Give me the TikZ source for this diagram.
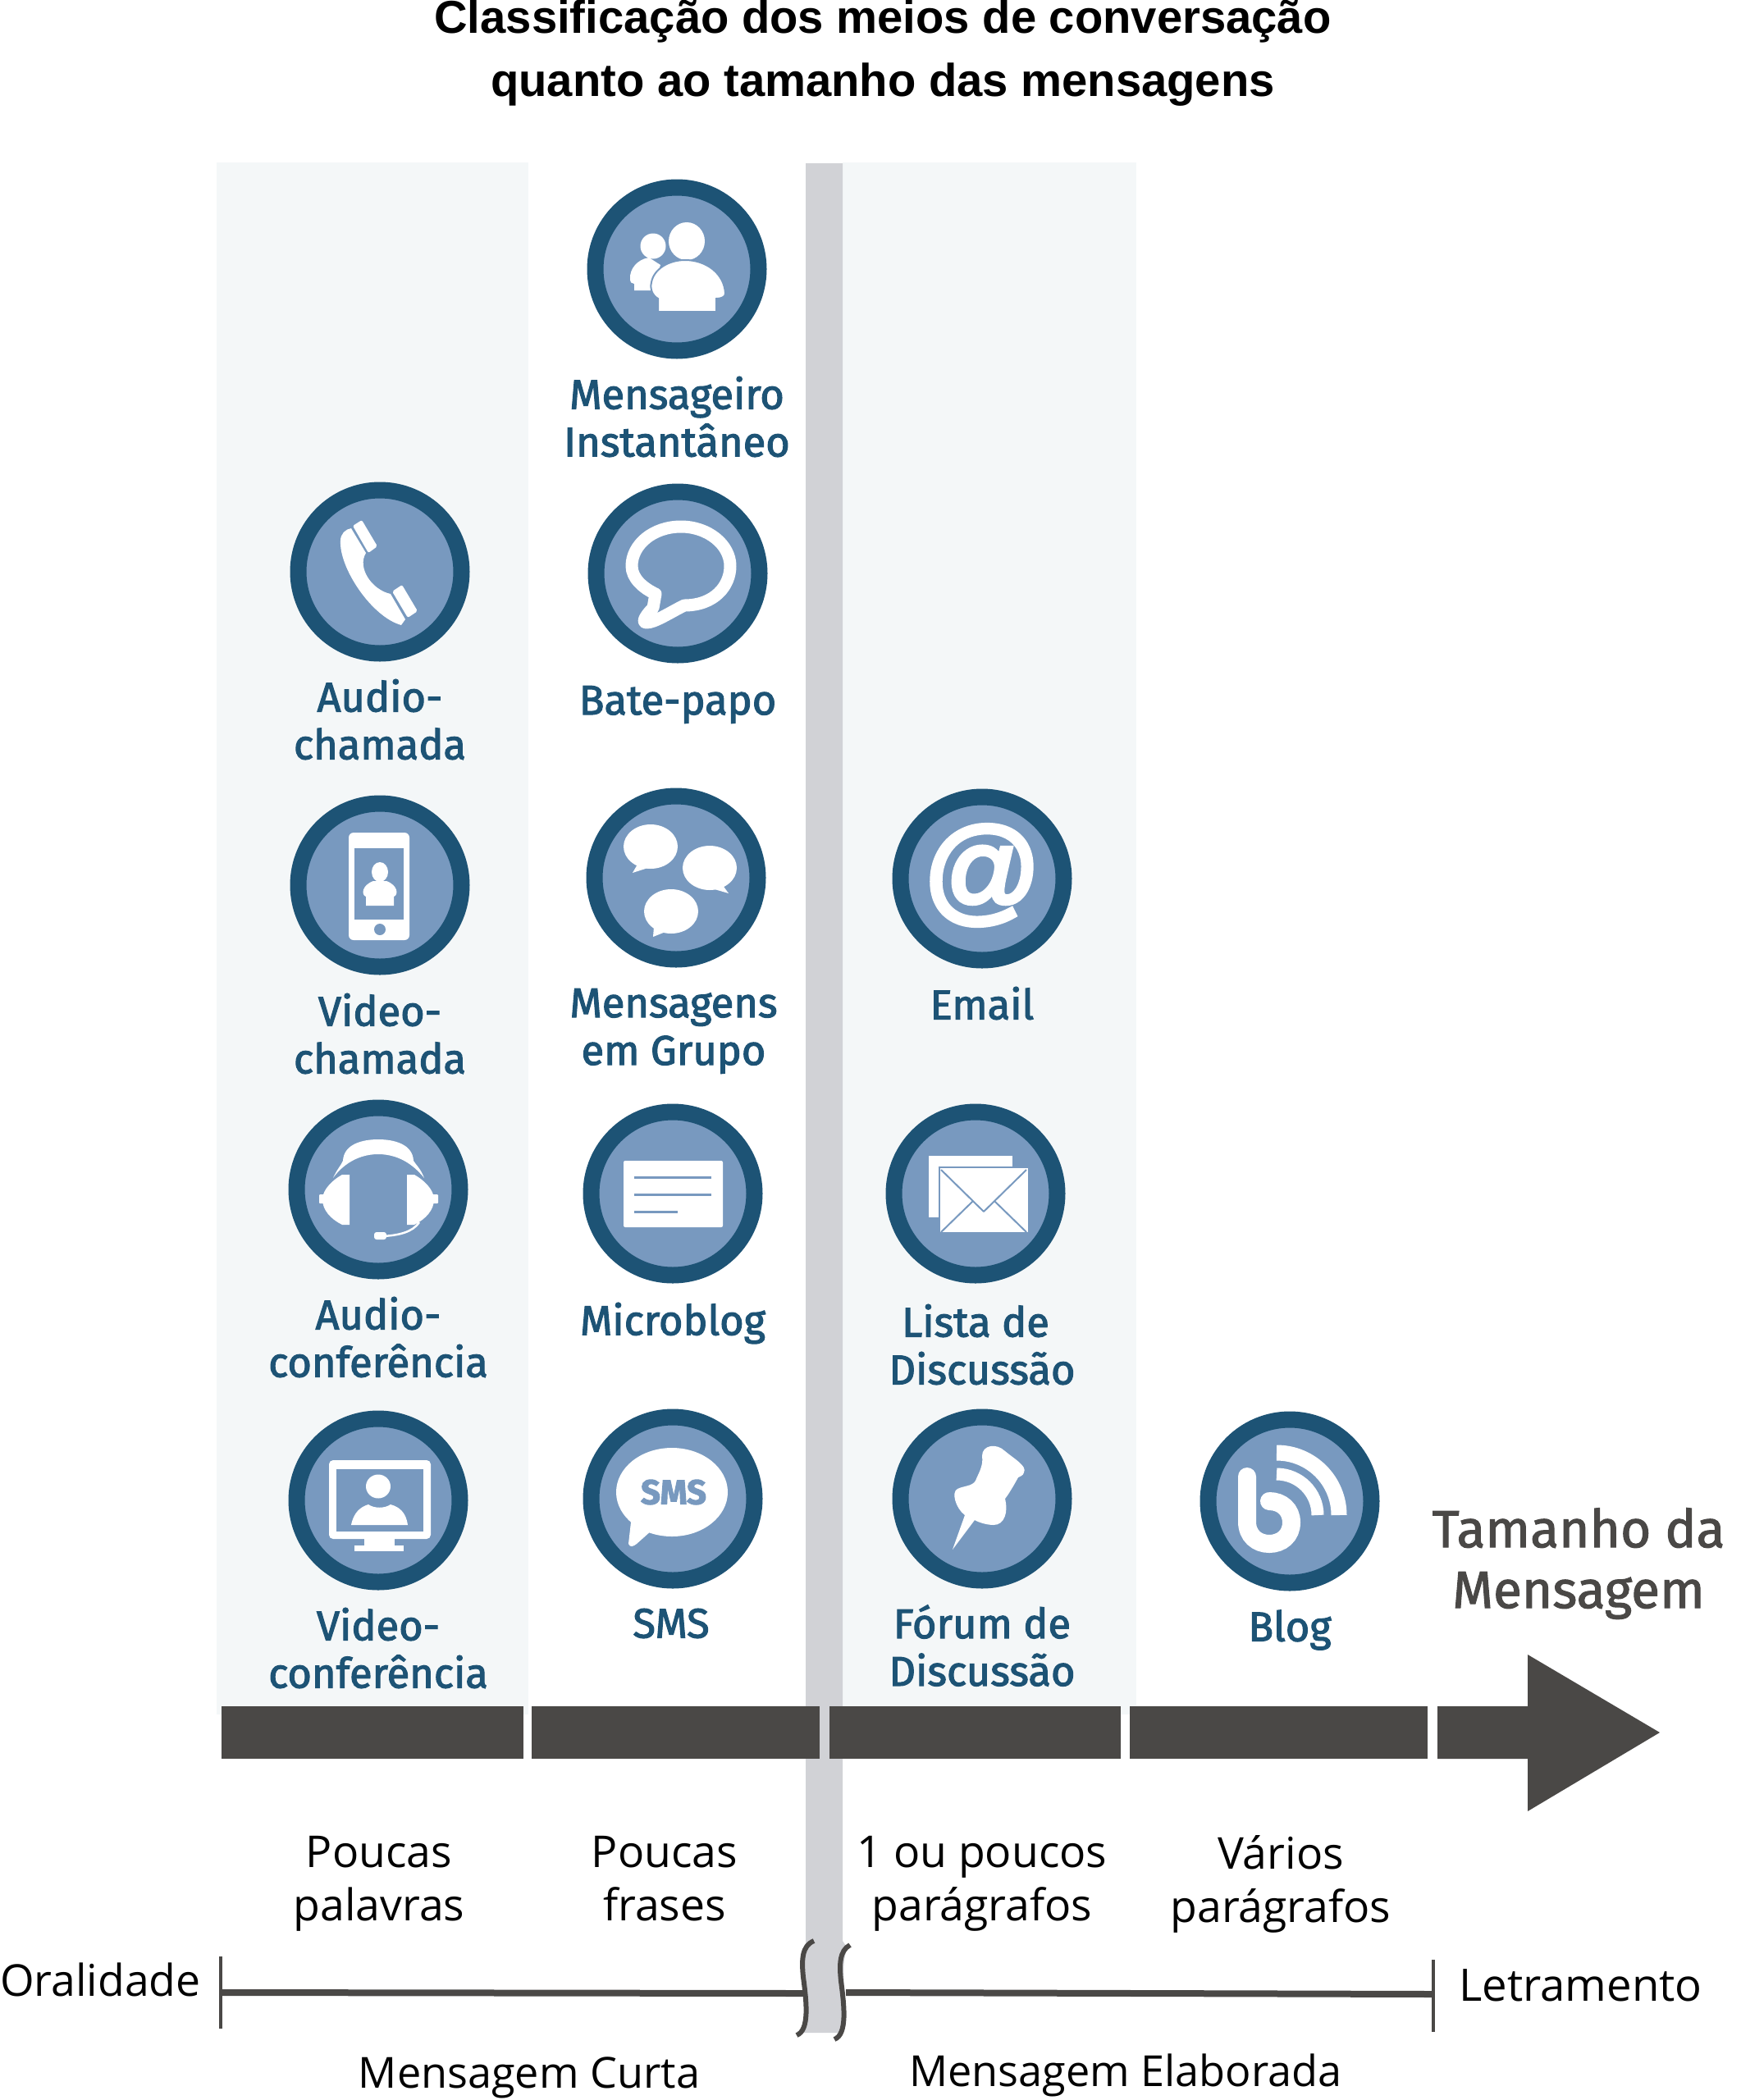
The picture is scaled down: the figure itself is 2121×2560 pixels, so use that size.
\documentclass[tikz,border=0pt]{standalone}
\usepackage{fontspec}
\setmainfont{Open Sans}
\newfontfamily\lblfont[FakeBold=2.2]{Fira Sans}
\newfontfamily\tamfont[FakeBold=1.6]{Fira Sans}
\newfontfamily\ttlfont{Liberation Sans}
\newfontfamily\atfont[FakeBold=4]{Liberation Sans}
\definecolor{ringc}{HTML}{1D5375}
\definecolor{innerc}{HTML}{7899BF}
\definecolor{darkc}{HTML}{4A4846}
\definecolor{bandc}{HTML}{D1D2D6}
\definecolor{panelc}{HTML}{F4F7F8}
\tikzset{
 x=1pt,y=-1pt,
 badge/.style={circle,draw=ringc,fill=innerc,line width=20pt,minimum size=199pt,inner sep=0pt,outer sep=0pt},
 lbl/.style={text=ringc,align=center,font=\lblfont\fontsize{50.6}{58}\selectfont,inner sep=0pt},
 plain/.style={text=black,align=center,font=\fontsize{53.5}{65}\selectfont,inner sep=0pt},
 plainb/.style={plain,font=\fontsize{52.2}{65}\selectfont},
 wh/.style={fill=white,draw=none},
 bar/.style={fill=darkc,draw=none},
 ic people/.pic={
  \fill[white] (-29,-28) circle (15.5);
  \fill[white] (-34,-14) .. controls (-48,-12) and (-58,0) .. (-57,12) .. controls (-57,16) and (-55,18) .. (-52,18) -- (-52,26) -- (-30,26) -- (-20,-5) -- cycle;
  \fill[white] (12,-34) ellipse [x radius=22,y radius=23];
  \draw[fill=white,draw=innerc,line width=2pt] (-23,52) -- (-23,36) .. controls (-30,32) and (-33,24) .. (-31,16) .. controls (-28,0) and (-10,-11) .. (10,-11) .. controls (35,-11) and (58,5) .. (59,30) .. controls (59,34) and (54,36) .. (48,36) -- (48,52) -- cycle;
 },
 ic phone/.pic={
  \fill[white,rounded corners=2pt] (-22,-63) -- (-3,-31) -- (-14,-23) -- (-33,-56) -- cycle;
  \fill[white,rounded corners=2pt] (27,16) -- (46,48) -- (34,56) -- (15,24) -- cycle;
  \fill[white] (-35,-53) -- (-17,-23) .. controls (-28,-5) and (-10,22) .. (13,27) -- (31,58) -- (26,65) .. controls (-10,55) and (-50,-5) .. (-48,-38) .. controls (-48,-46) and (-42,-52) .. (-35,-53) -- cycle;
 },
 ic chat/.pic={
  \draw[white,fill=innerc,line width=15pt,line join=round] (-27,25) -- (-30,42) .. controls (-38,50) and (-45,60) .. (-38,60) .. controls (-28,60) and (-10,48) .. (8,39) .. controls (45,39) and (64,15) .. (64,-9) .. controls (64,-35) and (37,-57) .. (4,-57) .. controls (-30,-57) and (-56,-35) .. (-56,-9) .. controls (-56,6) and (-42,18) .. (-27,25) -- cycle;
 },
 ic mobile/.pic={
  \fill[white,rounded corners=6pt] (-38,-64) rectangle (36,67);
  \fill[innerc] (-31,-45) rectangle (29,42);
  \fill[innerc] (0,54) circle (7);
  \fill[white] (0,-16) ellipse [x radius=10,y radius=12];
  \fill[white] (-17,25) -- (-17,14) .. controls (-23,12) and (-22,0) .. (-8,-5) -- (8,-5) .. controls (22,0) and (23,12) .. (17,14) -- (17,25) -- cycle;
 },
 bub/.pic={
  \fill[white] (0,0) ellipse [x radius=33,y radius=27];
 },
 ic group/.pic={
  \pic at (-31,-38) {bub};
  \fill[white] (-46,-18) -- (-53,-6) -- (-28,-14) -- cycle;
  \pic at (41,-12) {bub};
  \fill[white] (56,8) -- (64,19) -- (40,12) -- (60,0) -- cycle;
  \pic at (-6,41) {bub};
  \fill[white] (-27,60) -- (-28,72) -- (-8,64) -- cycle;
 },
 ic headset/.pic={
  \fill[white] (-55,-14) .. controls (-50,-25) and (-45,-30) .. (-43,-35) .. controls (-42,-55) and (-20,-61) .. (0,-61) .. controls (20,-61) and (42,-55) .. (43,-35) .. controls (46,-30) and (52,-25) .. (56,-14) .. controls (48,-24) and (30,-43) .. (0,-43) .. controls (-30,-43) and (-48,-24) .. (-55,-14) -- cycle;
  \fill[white] (-35,-18) -- (-35,43) -- (-44,43) .. controls (-58,36) and (-68,25) .. (-68,12) .. controls (-68,0) and (-55,-12) .. (-44,-18) -- cycle;
  \fill[white] (35,-18) -- (35,43) -- (44,43) .. controls (58,36) and (68,25) .. (68,12) .. controls (68,0) and (55,-12) .. (44,-18) -- cycle;
  \fill[white,rounded corners=1pt] (-72,6) rectangle (-66,17);
  \fill[white,rounded corners=1pt] (66,6) rectangle (73,17);
  \draw[white,line width=2.5pt] (50,40) .. controls (42,52) and (25,56) .. (5,57);
  \fill[white,rounded corners=3pt] (-5,52) rectangle (10,61);
 },
 ic micro/.pic={
  \fill[white,rounded corners=2pt] (-60,-40) rectangle (61,41);
  \draw[innerc,line width=3pt] (-47,-20) -- (47,-20) (-47,1) -- (47,1) (-47,22) -- (6,22);
 },
 ic list/.pic={
  \fill[white] (-57,-46) rectangle (45,29);
  \draw[fill=white,draw=innerc,line width=2pt] (-44,-32) rectangle (65,48);
  \draw[innerc,line width=2pt,line join=round] (-42,-29) -- (10,22) -- (62,-29) (-42,47) -- (-4,10) (62,47) -- (24,10);
 },
 ic screen/.pic={
  \fill[white,rounded corners=5pt] (-60,-49) rectangle (64,47);
  \fill[innerc] (-51,-38) rectangle (55,38);
  \fill[white] (-17,47) rectangle (20,56);
  \fill[white] (-29,55) rectangle (31,62);
  \fill[white] (0,-17) ellipse [x radius=15,y radius=14.5];
  \fill[white] (-33,30) .. controls (-30,15) and (-22,8) .. (-12,5) .. controls (-5,10) and (8,10) .. (15,5) .. controls (26,8) and (34,15) .. (36,30) -- cycle;
 },
 ic sms/.pic={
  \fill[white] (-1,-8) ellipse [x radius=68,y radius=54];
  \fill[white] (-50,20) -- (-54,55) .. controls (-52,60) and (-48,58) .. (-44,55) -- (-25,38) -- cycle;
  \node[text=innerc,inner sep=0pt,font=\lblfont\bfseries\fontsize{42}{42}\selectfont] (smsglyph) at (1,-8) {SMS};
 },
 ic pin/.pic={
  \fill[white] (0,-52) .. controls (0,-66) and (18,-68) .. (28,-58) .. controls (40,-48) and (55,-40) .. (51,-32) .. controls (50,-28) and (46,-27) .. (44,-26) .. controls (38,-15) and (32,-5) .. (28,0) .. controls (32,15) and (28,32) .. (14,32) .. controls (8,32) and (-2,30) .. (-9,26) -- (-36,62) -- (-21,20) .. controls (-32,12) and (-38,-8) .. (-30,-12) .. controls (-22,-16) and (-12,-15) .. (-8,-22) .. controls (-5,-30) and (2,-40) .. (0,-52) -- cycle;
 },
 ic blog/.pic={
  \draw[white,line width=22pt,line cap=round] (-52,-30) -- (-52,25) .. controls (-52,42) and (-40,52) .. (-25,52) .. controls (-10,52) and (2,42) .. (2,26) .. controls (2,10) and (-10,0) .. (-25,0);
  \draw[white,line width=19pt] (-16,-59) .. controls (26,-59) and (60,-25) .. (60,17);
  \draw[white,line width=15pt] (-16,-33) .. controls (11.6,-33) and (34,-10.6) .. (34,17);
 },
}
\begin{document}
\begin{tikzpicture}
\useasboundingbox (0,0) rectangle (2121,2560);
% panels
\fill[panelc] (264,198) rectangle (644,2090);
\fill[panelc] (1027,198) rectangle (1385,2090);
% grey band with broken end
\fill[bandc] (982,199) -- (1027,199) -- (1027,2366) -- (1033,2375) .. controls (1021,2400) and (1037,2450) .. (1027,2478) -- (977,2478) .. controls (987,2440) and (972,2400) .. (982,2370) -- cycle;
% title
\node[inner sep=0pt,align=center,font=\ttlfont\bfseries\fontsize{56.2}{77}\selectfont] (title) at (1076,65) {Classificação dos meios de conversação\\quanto ao tamanho das mensagens};
% scale bar
\fill[bar] (270,2080) rectangle (638,2144);
\fill[bar] (648,2080) rectangle (999,2144);
\fill[bar] (1011,2080) rectangle (1366,2144);
\fill[bar] (1377,2080) rectangle (1740,2144);
\fill[bar] (1752,2080) -- (1862,2080) -- (1862,2017) -- (2023,2112) -- (1862,2208) -- (1862,2144) -- (1752,2144) -- cycle;
\node[text=darkc,align=center,inner sep=0pt,font=\tamfont\fontsize{64}{74}\selectfont] (tam) at (1924,1906) {Tamanho da\\Mensagem};
% badges
\node[badge] (n1) at (825,328) {};
\node[badge] (n2) at (463,697) {};
\node[badge] (n3) at (826,699) {};
\node[badge] (n4) at (463,1079) {};
\node[badge] (n5) at (824,1070) {};
\node[badge] (n6) at (1197,1071) {};
\node[badge] (n7) at (461,1450) {};
\node[badge] (n8) at (820,1455) {};
\node[badge] (n9) at (1189,1455) {};
\node[badge] (n10) at (461,1829) {};
\node[badge] (n11) at (820,1827) {};
\node[badge] (n12) at (1197,1827) {};
\node[badge] (n13) at (1572,1830) {};
% icons
\pic at (n1) {ic people};
\pic at (n2) {ic phone};
\pic at (n3) {ic chat};
\pic at (n4) {ic mobile};
\pic at (n5) {ic group};
\node[text=white,inner sep=0pt,font=\atfont\fontsize{142}{142}\selectfont] (atsign) at (1197,1067) {@};
\pic at (n7) {ic headset};
\pic at (n8) {ic micro};
\pic at (n9) {ic list};
\pic at (n10) {ic screen};
\pic at (n11) {ic sms};
\pic at (n12) {ic pin};
\pic at (n13) {ic blog};
% labels
\node[lbl] (l1) at (825,508) {Mensageiro\\Instantâneo};
\node[lbl] (l2) at (463,877) {Audio-\\chamada};
\node[lbl] (l3) at (826,859) {Bate-papo};
\node[lbl] (l4) at (463,1260) {Video-\\chamada};
\node[lbl] (l5) at (821,1257) {Mensagens\\em Grupo};
\node[lbl] (l6) at (1197,1223) {Email};
\node[lbl] (l7) at (461,1630) {Audio-\\conferência};
\node[lbl] (l8) at (820,1613) {Microblog};
\node[lbl] (l9a) at (1189,1610) {Lista de};
\node[lbl] (l9b) at (1197,1668) {Discussão};
\node[lbl] (l10) at (461,2009) {Video-\\conferência};
\node[lbl] (l11) at (818,1979) {SMS};
\node[lbl] (l12) at (1197,2006) {Fórum de\\Discussão};
\node[lbl] (l13) at (1572,1987) {Blog};
% lower text
\node[plain] (t1) at (462,2296) {Poucas\\palavras};
\node[plain] (t2) at (810,2290) {Poucas\\frases};
\node[plain] (t3) at (1197,2296) {1 ou poucos\\parágrafos};
\node[plain] (t4) at (1561,2297) {Vários\\parágrafos};
\node[plain,anchor=west] (orl) at (0,2413) {Oralidade};
\node[plain,anchor=west,font=\fontsize{54.5}{65}\selectfont] (let) at (1778,2420) {Letramento};
\node[plainb] (curta) at (645,2533) {Mensagem Curta};
\node[plainb] (elab) at (1372,2530) {Mensagem Elaborada};
% lower scale
\coordinate (la) at (269,2429);
\coordinate (lb) at (980,2430);
\coordinate (ra) at (1031,2429);
\coordinate (rb) at (1747,2431);
\draw[darkc,line width=8pt] (la) -- (lb);
\draw[darkc,line width=8pt] (ra) -- (rb);
\draw[darkc,line width=4.5pt] (269,2385) -- (269,2473);
\draw[darkc,line width=4.5pt] (1747,2389) -- (1747,2477);
\draw[darkc,line width=6pt] (992,2366) .. controls (977,2372) and (977,2390) .. (979,2410) .. controls (983,2440) and (987,2475) .. (971,2481);
\draw[darkc,line width=6pt] (1036,2371) .. controls (1023,2378) and (1023,2395) .. (1025,2415) .. controls (1029,2445) and (1033,2480) .. (1017,2486);
\end{tikzpicture}
\end{document}
